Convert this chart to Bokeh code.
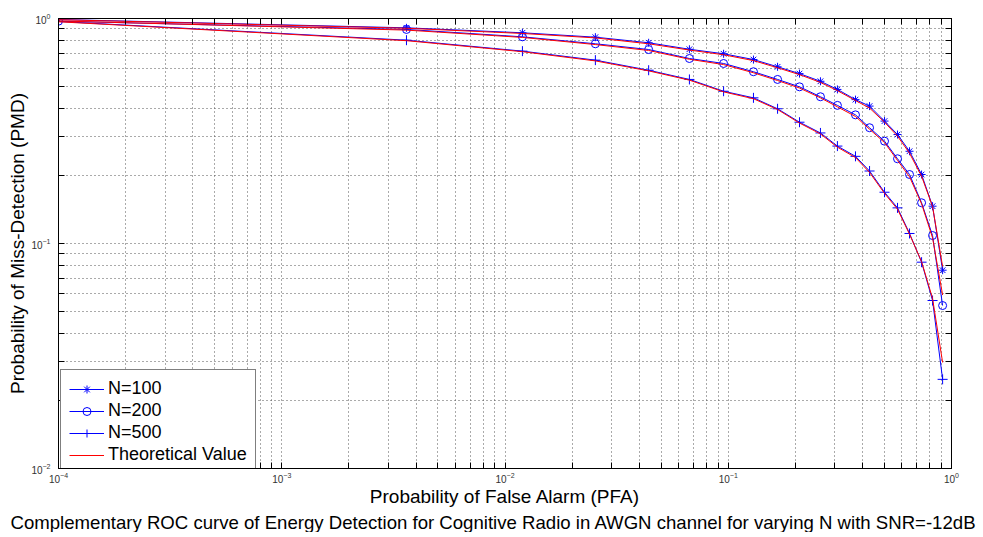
from bokeh.plotting import figure
from bokeh.models import (LogAxis, FixedTicker, Legend, LegendItem, Title,
                          CustomJSTickFormatter)
from bokeh.embed import file_html
from bokeh.resources import INLINE

# Probability of false alarm (x)
pfa = [1.0e-4, 0.00362, 0.01197, 0.0254, 0.0440, 0.0670, 0.0953, 0.1297, 0.1663,
       0.2085, 0.2588, 0.3083, 0.3715, 0.4295, 0.5012, 0.5731, 0.6486, 0.7345,
       0.8225, 0.9124]

# Simulated probability of miss-detection
pmd_n100 = [0.990, 0.909, 0.864, 0.826, 0.780, 0.730, 0.697, 0.657, 0.610, 0.569,
            0.526, 0.484, 0.436, 0.408, 0.350, 0.305, 0.257, 0.2026, 0.1465, 0.0761]
pmd_n200 = [0.973, 0.894, 0.829, 0.772, 0.728, 0.664, 0.631, 0.580, 0.536, 0.497,
            0.449, 0.411, 0.373, 0.327, 0.285, 0.238, 0.2026, 0.1517, 0.1085, 0.0530]
pmd_n500 = [0.970, 0.801, 0.716, 0.653, 0.589, 0.536, 0.475, 0.444, 0.397, 0.346,
            0.310, 0.271, 0.244, 0.210, 0.169, 0.144, 0.1108, 0.0826, 0.0558, 0.0249]

# Theoretical values
th_n100 = [0.988, 0.905, 0.858, 0.820, 0.772, 0.724, 0.690, 0.650, 0.604, 0.563,
           0.520, 0.478, 0.432, 0.400, 0.346, 0.300, 0.252, 0.199, 0.146, 0.079]
th_n200 = [0.975, 0.888, 0.824, 0.766, 0.721, 0.659, 0.624, 0.574, 0.530, 0.491,
           0.444, 0.405, 0.367, 0.322, 0.281, 0.234, 0.198, 0.150, 0.106, 0.059]
th_n500 = [0.967, 0.797, 0.712, 0.648, 0.585, 0.532, 0.472, 0.440, 0.394, 0.343,
           0.307, 0.268, 0.241, 0.207, 0.167, 0.142, 0.110, 0.083, 0.057, 0.0296]

x_major = [1e-4, 1e-3, 1e-2, 1e-1, 1.0]
y_major = [1e-2, 1e-1, 1.0]
series_labels = ["N=100", "N=200", "N=500", "Theoretical Value"]

FONT = "Liberation Sans"

x_minor = [m * 10.0 ** e for e in range(-4, 0) for m in range(2, 10)]
y_minor = [m * 10.0 ** e for e in range(-2, 0) for m in range(2, 10)]

p = figure(width=983, height=532, x_axis_type="log", y_axis_type="log",
           x_range=(1e-4, 1.0), y_range=(1e-2, 1.0),
           output_backend="svg", toolbar_location=None,
           min_border_left=58, min_border_right=32, min_border_top=18,
           min_border_bottom=55)
p.outline_line_color = "black"
p.background_fill_color = "white"
p.border_fill_color = "white"

xt = FixedTicker(ticks=x_major, minor_ticks=x_minor)
yt = FixedTicker(ticks=y_major, minor_ticks=y_minor)

bottom = p.below[0]
left = p.left[0]
bottom.ticker = xt
left.ticker = yt

top = LogAxis(ticker=xt, formatter=CustomJSTickFormatter(code="return ''"))
right = LogAxis(ticker=yt, formatter=CustomJSTickFormatter(code="return ''"))
p.add_layout(top, "above")
p.add_layout(right, "right")

for ax in [bottom, left, top, right]:
    ax.major_tick_in = 6
    ax.major_tick_out = 0
    ax.minor_tick_in = 6
    ax.minor_tick_out = 0
    ax.axis_line_color = "black"
    ax.major_tick_line_color = "black"
    ax.minor_tick_line_color = "black"
    ax.major_label_text_font = FONT
    ax.major_label_text_font_size = "10px"
    ax.major_label_text_color = "#333333"

for ax in [top, right]:
    ax.major_label_text_font_size = "0px"
    ax.major_label_standoff = 0

bottom.major_label_standoff = 3
left.major_label_standoff = 8

bottom.axis_label = "Probability of False Alarm (PFA)"
left.axis_label = "Probability of Miss-Detection (PMD)"
for ax in [bottom, left]:
    ax.axis_label_text_font = FONT
    ax.axis_label_text_font_size = "19px"
    ax.axis_label_text_font_style = "normal"
    ax.axis_label_text_color = "black"
bottom.axis_label_standoff = 0
left.axis_label_standoff = 0

for g in [p.xgrid[0], p.ygrid[0]]:
    g.grid_line_color = "#555555"
    g.grid_line_dash = "1 3"
    g.grid_line_width = 1
    g.minor_grid_line_color = "#555555"
    g.minor_grid_line_dash = "1 3"
    g.minor_grid_line_width = 1
p.xgrid[0].ticker = xt
p.ygrid[0].ticker = yt

BLUE = "#0000ff"
RED = "#ff0000"

l1 = p.line(pfa, pmd_n100, line_color=BLUE, line_width=1)
m1 = p.scatter(pfa, pmd_n100, marker="asterisk", size=8, line_color=BLUE, fill_color=None)
l2 = p.line(pfa, pmd_n200, line_color=BLUE, line_width=1)
m2 = p.scatter(pfa, pmd_n200, marker="circle", size=8, line_color=BLUE, fill_color=None)
l3 = p.line(pfa, pmd_n500, line_color=BLUE, line_width=1)
m3 = p.scatter(pfa, pmd_n500, marker="cross", size=10, line_color=BLUE, fill_color=None)

t1 = p.line(pfa, th_n100, line_color=RED, line_width=1)
p.line(pfa, th_n200, line_color=RED, line_width=1)
p.line(pfa, th_n500, line_color=RED, line_width=1)

legend = Legend(items=[
    LegendItem(label=series_labels[0], renderers=[l1, m1]),
    LegendItem(label=series_labels[1], renderers=[l2, m2]),
    LegendItem(label=series_labels[2], renderers=[l3, m3]),
    LegendItem(label=series_labels[3], renderers=[t1]),
], location=(2, -6))
legend.label_text_font = FONT
legend.label_text_font_size = "18px"
legend.label_text_color = "black"
legend.border_line_color = "black"
legend.border_line_width = 1
legend.background_fill_color = "white"
legend.background_fill_alpha = 1.0
legend.padding = 8
legend.spacing = 1
legend.glyph_width = 35
legend.glyph_height = 20
legend.label_height = 20
legend.label_standoff = 4
legend.margin = 0
p.add_layout(legend)

title = Title(text="Complementary ROC curve of Energy Detection for Cognitive Radio in AWGN channel for varying N with SNR=-12dB",
              align="left", offset=-48, text_font=FONT, text_font_size="18.6px",
              text_font_style="normal", text_color="black", standoff=0)
p.add_layout(title, "below")

open("out.html", "w").write(file_html(p, INLINE))
